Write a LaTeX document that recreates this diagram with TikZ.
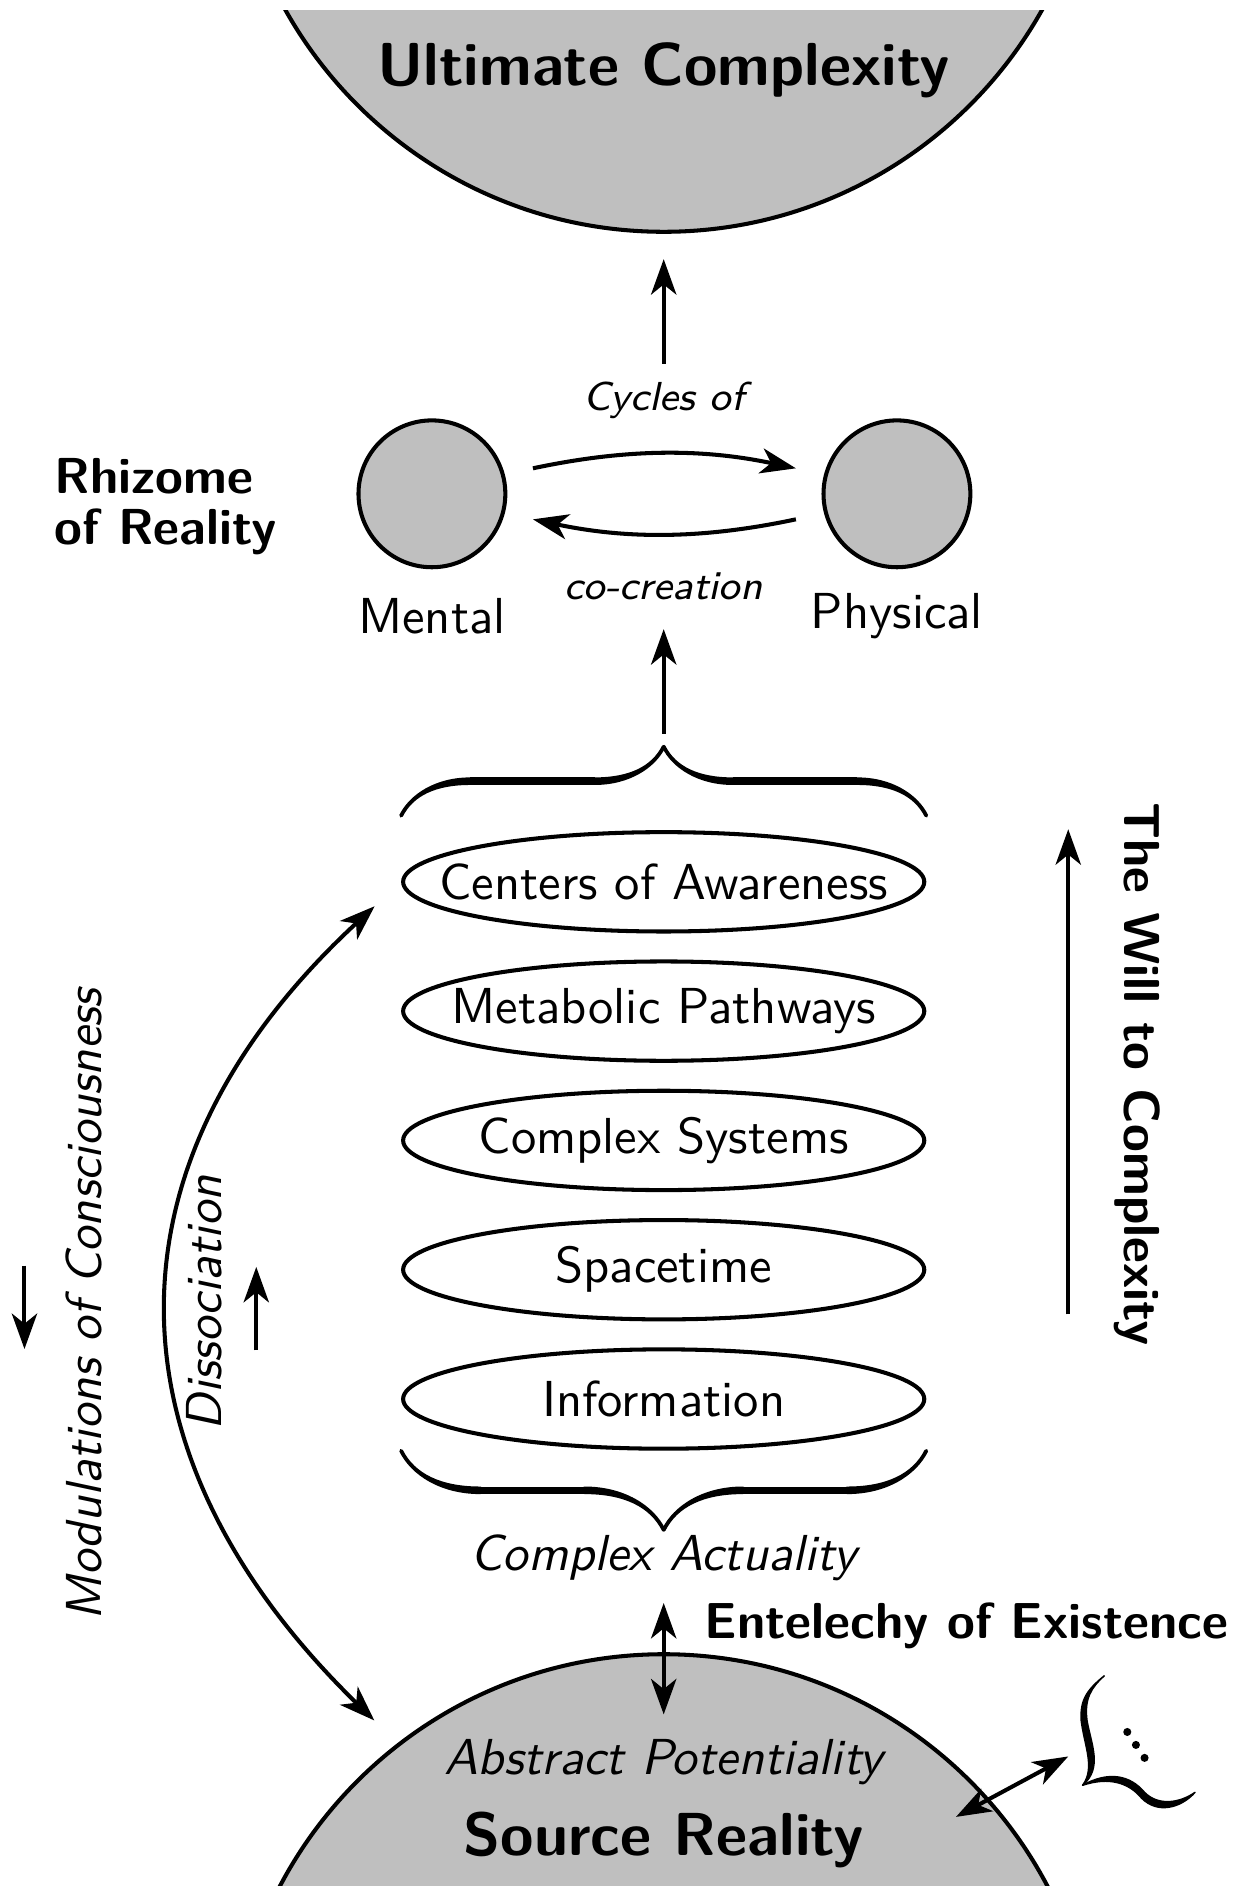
\documentclass[tikz,border=0pt]{standalone}
\usepackage{amsmath}
\usepackage{tikz}
\renewcommand{\familydefault}{\sfdefault}
\usetikzlibrary{calc}
\usetikzlibrary{positioning, arrows.meta, shapes.geometric}
\usetikzlibrary{decorations.pathreplacing, calligraphy}

\begin{document}
\begin{tikzpicture}[>={Stealth[length=7pt, width=5pt, inset=2pt]},
    level/.style={draw, thick, ellipse, minimum width=3.62cm, minimum height=0.69cm, inner xsep=-0.6cm, inner ysep=0pt},
    realm/.style={draw, thick, circle, fill=gray!50, minimum size=1.02cm, inner sep=0pt},
    flow/.style={->, thick},
    bigbrace/.style={decorate, decoration={calligraphic brace, amplitude=#1}, line width=1.5pt}]
    \useasboundingbox (0,0) rectangle (8.6,-13.1);
    \begin{scope}
        \clip (0,-0.07) rectangle (8.6,-13.1);
        \draw [thick, fill=gray!50] (4.61,1.40) circle (3.01cm);
        \draw [thick, fill=gray!50] (4.61,-14.50) circle (3.01cm);
    \end{scope}
    \coordinate (ucbase) at (4.61,-1.61);
    \node (ultimate) at (4.61,-0.49) {\large\bfseries Ultimate Complexity};
    \node (source) at (4.61,-12.78) {\large\bfseries Source Reality};
    \node (abstract) [font=\itshape] at (4.61,-12.24) {Abstract Potentiality};

    \node (mental) [realm] at (3.00,-3.43) {};
    \node (physical) [realm] at (6.23,-3.43) {};
    \node (mlabel) at (3.00,-4.28) {Mental};
    \node (plabel) at (6.23,-4.28) {Physical};
    \node (cycles) [font=\footnotesize\itshape] at (4.61,-2.78) {Cycles of};
    \node (cocreation) [font=\footnotesize\itshape] at (4.61,-4.07) {co-creation};
    \node (rhizome) [align=left, font=\bfseries] at (1.15,-3.52) {Rhizome\\[-2pt]of Reality};
    \draw [flow, shorten <=0.2cm, shorten >=0.2cm] (mental.15) to[bend left=12] (physical.165);
    \draw [flow, shorten <=0.2cm, shorten >=0.2cm] (physical.195) to[bend left=12] (mental.345);
    \draw [flow] (cycles.north) -- ([yshift=-0.19cm]ucbase);

    \node (centers) [level] at (4.61,-6.125) {Centers of Awareness};
    \node (metabolic) [level, below=0.18cm of centers] {Metabolic Pathways};
    \node (systems) [level, below=0.18cm of metabolic] {Complex Systems};
    \node (spacetime) [level, below=0.18cm of systems] {Spacetime};
    \node (information) [level, below=0.18cm of spacetime] {Information};
    \draw [bigbrace=0.48cm] ([yshift=0.1cm]centers.north -| centers.west) -- ([yshift=0.1cm]centers.north -| centers.east);
    \draw [bigbrace=0.55cm] (information.south -| information.east) -- (information.south -| information.west);
    \draw [flow] ([yshift=0.67cm]centers.north) -- ([yshift=-0.3cm]cocreation.center);

    \node (actuality) [font=\itshape] at (4.61,-10.82) {Complex Actuality};
    \draw [<->, thick, shorten <=0.03cm, shorten >=0.05cm] (actuality.south) -- (abstract.north);
    \node (entelechy) [anchor=west, font=\bfseries] at (4.77,-11.29) {Entelechy of Existence};

    \coordinate (willstart) at (7.42,-9.13);
    \coordinate (willend) at (7.42,-5.76);
    \draw [flow] (willstart) -- (willend);
    \node (will) [rotate=-90, font=\bfseries] at (7.90,-7.46) {The Will to Complexity};

    \coordinate (modbottom) at (2.60,-11.95);
    \draw [<->, thick, shorten >=0.25cm] (modbottom) .. controls (0.69,-10.09) and (0.69,-8.06) .. (centers.west);
    \node (modulations) [rotate=90, font=\itshape] at (0.58,-9.06) {Modulations of Consciousness};
    \node (dissociation) [rotate=90, font=\itshape] at (1.42,-9.05) {Dissociation};
    \draw [flow] ([shift={(-0.41,0.27)}]modulations.center) -- ++(0,-0.58);
    \draw [flow] ([shift={(0.36,-0.33)}]dissociation.center) -- ++(0,0.58);

    \coordinate (srcedge) at (6.64,-12.62);
    \coordinate (branch) at (7.52,-12.40);
    \draw [<->, thick] (srcedge) -- ([shift={(-0.1,0.2)}]branch);
    \filldraw [line width=0.3pt, line join=round] (branch) .. controls (7.66,-12.28) and (7.58,-12.12) .. (7.55,-11.95)
        .. controls (7.53,-11.80) and (7.58,-11.72) .. (7.67,-11.64)
        .. controls (7.56,-11.73) and (7.50,-11.80) .. (7.51,-11.95)
        .. controls (7.53,-12.12) and (7.61,-12.28) .. (branch) -- cycle;
    \filldraw [line width=0.3pt, line join=round] (branch) .. controls (7.70,-12.30) and (7.85,-12.33) .. (7.95,-12.45)
        .. controls (8.05,-12.55) and (8.20,-12.52) .. (8.30,-12.45)
        .. controls (8.20,-12.56) and (8.04,-12.60) .. (7.93,-12.49)
        .. controls (7.84,-12.38) and (7.70,-12.34) .. (branch) -- cycle;
    \foreach \d in {0,1,2}
        \fill ($(7.83,-12.03)+(\d*0.06,-\d*0.09)$) circle (0.028cm);
\end{tikzpicture}
\end{document}
